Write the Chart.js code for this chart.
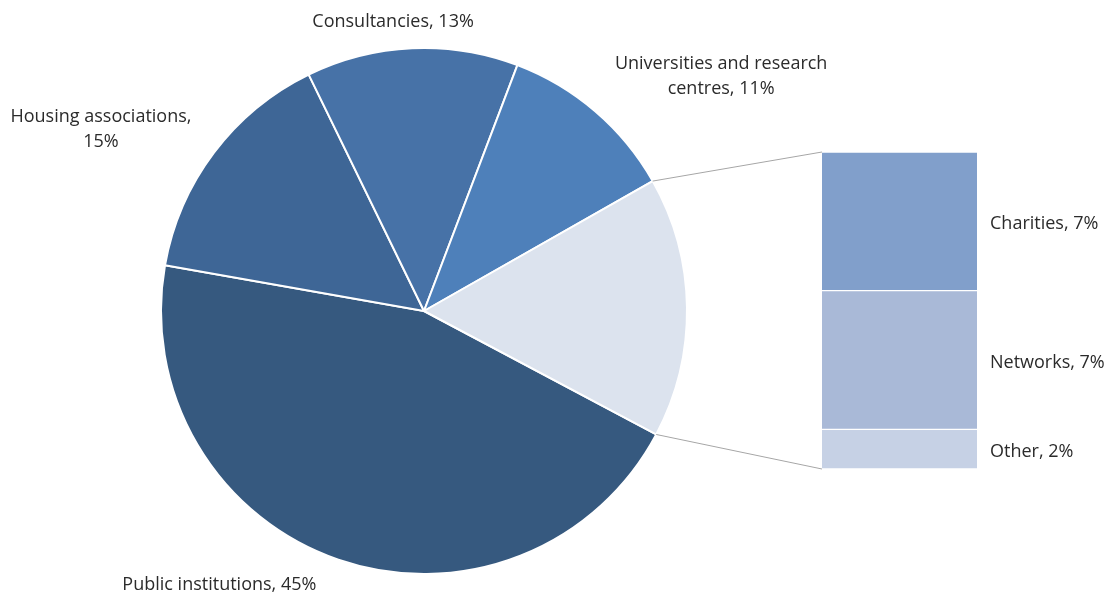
<!DOCTYPE html>
<html>
<head>
<meta charset="utf-8">
<script src="https://cdn.jsdelivr.net/npm/chart.js@4.4.1/dist/chart.umd.min.js"></script>
<style>
  html, body { margin: 0; padding: 0; background: #fff; }
  #wrap { position: relative; width: 1113px; height: 596px; }
  #wrap canvas { position: absolute; left: 0; top: 0; }
</style>
</head>
<body>
<div id="wrap">
  <canvas id="pieChart" width="1113" height="596"></canvas>
  <canvas id="barChart" width="1113" height="596"></canvas>
</div>
<script>
// main pie
var pieLabels = ['Public institutions', 'Housing associations', 'Consultancies', 'Universities and research centres', 'Other'];
var pieValues = [45, 15, 13, 11, 16];
var pieColors = ['#36597f', '#3e6696', '#4772a7', '#4e80ba', '#dce3ee'];

// breakdown of the "Other" slice
var barLabels = ['Other', 'Networks', 'Charities'];
var barValues = [2, 7, 7];
var barColors = ['#c6d1e5', '#a9b9d7', '#819fcb'];

var FONT = '18px "Open Sans", "Noto Sans", sans-serif';
var TEXT = '#2b2b2b';
var TEXT_SHIFT = 2; // Open Sans sits a bit high with 'middle' baseline

// label offset from the slice's outer midpoint, and wrap width
var pieLabelLayout = [
  { dx: -119, dy: 23, wrap: 400 },
  { dx: -113, dy: -25, wrap: 205 },
  { dx: -19, dy: -28, wrap: 400 },
  { dx: 126, dy: -37, wrap: 235 },
  null
];

function wrapText(ctx, text, maxWidth) {
  var words = text.split(' ');
  var lines = [];
  var line = '';
  words.forEach(function (w) {
    var test = line ? line + ' ' + w : w;
    if (line && ctx.measureText(test).width > maxWidth) {
      lines.push(line);
      line = w;
    } else {
      line = test;
    }
  });
  if (line) lines.push(line);
  return lines;
}

var barChart = new Chart(document.getElementById('barChart'), {
  type: 'bar',
  data: {
    labels: ['Other'],
    datasets: barLabels.map(function (name, i) {
      return {
        label: name,
        data: [barValues[i]],
        backgroundColor: barColors[i],
        borderColor: '#ffffff',
        borderWidth: { top: 1, bottom: 1, left: 0, right: 0 },
        borderSkipped: false,
        barPercentage: 1,
        categoryPercentage: 1
      };
    })
  },
  options: {
    responsive: false,
    animation: false,
    layout: { padding: { left: 822, right: 136, top: 152, bottom: 127 } },
    scales: {
      x: { stacked: true, display: false },
      y: { stacked: true, display: false, min: 0, max: 16 }
    },
    plugins: { legend: { display: false }, tooltip: { enabled: false } }
  },
  plugins: [{
    id: 'barLabels',
    afterDatasetsDraw: function (chart) {
      var ctx = chart.ctx;
      ctx.save();
      ctx.font = FONT;
      ctx.fillStyle = TEXT;
      ctx.textAlign = 'left';
      ctx.textBaseline = 'middle';
      chart.data.datasets.forEach(function (ds, i) {
        var bar = chart.getDatasetMeta(i).data[0];
        var yMid = (bar.y + bar.base) / 2 + TEXT_SHIFT + 1;
        ctx.fillText(ds.label + ', ' + ds.data[0] + '%', chart.chartArea.right + 13, yMid);
      });
      ctx.restore();
    }
  }]
});

new Chart(document.getElementById('pieChart'), {
  type: 'pie',
  data: {
    labels: pieLabels,
    datasets: [{
      data: pieValues,
      backgroundColor: pieColors,
      borderColor: '#ffffff',
      borderWidth: 2
    }]
  },
  options: {
    responsive: false,
    animation: false,
    rotation: 118,
    layout: { padding: { left: 160, right: 425, top: 47, bottom: 21 } },
    plugins: { legend: { display: false }, tooltip: { enabled: false } }
  },
  plugins: [{
    id: 'pieLabelsAndLinks',
    afterDatasetsDraw: function (chart) {
      var ctx = chart.ctx;
      var arcs = chart.getDatasetMeta(0).data;
      ctx.save();

      // connector lines from the "Other" slice to the breakdown bar
      var other = arcs[4];
      var area = barChart.chartArea;
      ctx.strokeStyle = '#a6a6a6';
      ctx.lineWidth = 1;
      ctx.beginPath();
      ctx.moveTo(other.x + other.outerRadius * Math.cos(other.startAngle),
                 other.y + other.outerRadius * Math.sin(other.startAngle));
      ctx.lineTo(area.left, area.top);
      ctx.moveTo(other.x + other.outerRadius * Math.cos(other.endAngle),
                 other.y + other.outerRadius * Math.sin(other.endAngle));
      ctx.lineTo(area.left, area.bottom);
      ctx.stroke();

      // slice labels
      ctx.font = FONT;
      ctx.fillStyle = TEXT;
      ctx.textAlign = 'center';
      ctx.textBaseline = 'middle';
      var lineH = 25;
      arcs.forEach(function (arc, i) {
        var lay = pieLabelLayout[i];
        if (!lay) return;
        var mid = (arc.startAngle + arc.endAngle) / 2;
        var px = arc.x + arc.outerRadius * Math.cos(mid) + lay.dx;
        var py = arc.y + arc.outerRadius * Math.sin(mid) + lay.dy + TEXT_SHIFT;
        var text = chart.data.labels[i] + ', ' + chart.data.datasets[0].data[i] + '%';
        var lines = wrapText(ctx, text, lay.wrap);
        var y0 = py - (lines.length - 1) * lineH / 2;
        lines.forEach(function (l, k) {
          ctx.fillText(l, px, y0 + k * lineH);
        });
      });
      ctx.restore();
    }
  }]
});
</script>
</body>
</html>
